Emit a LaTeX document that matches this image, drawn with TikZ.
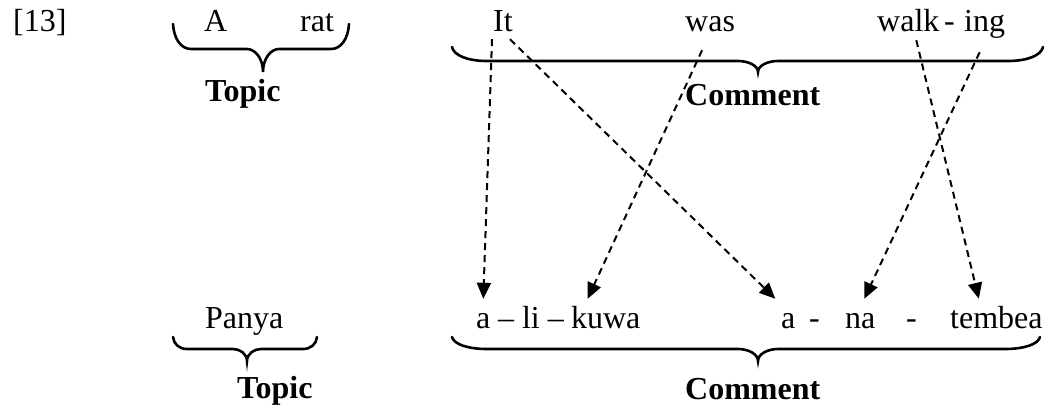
\documentclass[tikz,border=0pt]{standalone}
\usepackage{fontspec}
\setmainfont{Liberation Serif}
\usetikzlibrary{arrows.meta}
\newcommand\bigsz{\fontsize{32}{38}\selectfont}
% #1 xL, #2 xR, #3 y of ends, #4 y of line, #5 x tip, #6 y tip, #7 end spread, #8 tip spread
\newcommand\drawbrace[8]{%
  \draw[bracestyle] (#1,#3) .. controls ({#1+0.05*#7},{#3+0.6*(#4-#3)}) and ({#1+0.45*#7},#4) .. ({#1+#7},#4)
    -- ({#5-#8},#4) .. controls ({#5-0.5*#8},#4) and (#5,{#4+0.4*(#6-#4)}) .. (#5,#6)
    .. controls (#5,{#4+0.4*(#6-#4)}) and ({#5+0.5*#8},#4) .. ({#5+#8},#4)
    -- ({#2-#7},#4) .. controls ({#2-0.45*#7},#4) and ({#2-0.05*#7},{#3+0.6*(#4-#3)}) .. (#2,#3);}
\tikzset{
  word/.style={inner sep=0pt, anchor=base west, text height=22pt, text depth=6pt, font=\bigsz},
  lab/.style={word, font=\bigsz\bfseries},
  conn/.style={dash pattern=on 7pt off 5pt, line width=2pt, -{Triangle[length=16pt,width=14pt]}},
  bracestyle/.style={line width=2.6pt, line cap=round}
}
\begin{document}
\begin{tikzpicture}[x=1pt,y=-1pt]
\useasboundingbox (0,0) rectangle (1045,406);
% top row
\node[word] (num) at (13,32) {[13]};
\node[word] (A) at (204,32) {A};
\node[word] (rat) at (300,32) {rat};
\node[word] (It) at (493,32) {It};
\node[word] (was) at (685,32) {was};
\node[word] (walk) at (877,32) {walk};
\node[word] (hy0) at (944,32) {-};
\node[word] (ing) at (964,32) {ing};
\drawbrace{173}{349}{24}{49}{263}{72}{18}{16}
\drawbrace{452}{1043}{47}{61}{758}{72}{35}{20}
\node[lab] (topic1) at (205,102) {Topic};
\node[lab] (comment1) at (685,106) {Comment};
% bottom row
\node[word] (panya) at (205,328) {Panya};
\node[word] (a1) at (476,328) {a};
\node[word] (li) at (497.9,328) {– li –};
\node[word] (kuwa) at (570.8,328) {kuwa};
\node[word] (a2) at (781,328) {a};
\node[word] (hy1) at (809,328) {-};
\node[word] (na) at (845,328) {na};
\node[word] (hy2) at (906,328) {-};
\node[word] (tembea) at (950,328) {tembea};
\drawbrace{173}{317}{337}{349}{247}{361}{14}{14}
\drawbrace{452}{1040}{337}{349}{758}{361}{35}{20}
\node[lab] (topic2) at (237,398) {Topic};
\node[lab] (comment2) at (685,399) {Comment};
% connectors
\draw[conn] ([shift={(-1,1)}]It.south west) -- ([shift={(0,-7)}]a1.north);
\draw[conn] ([shift={(-3,1)}]It.south east) -- ([shift={(-13,-7)}]a2.north);
\draw[conn] ([shift={(-8,12)}]was.south) -- ([shift={(-18,-7)}]kuwa.north);
\draw[conn] ([shift={(8,2)}]walk.south) -- ([shift={(-17.6,-7)}]tembea.north);
\draw[conn] ([shift={(-5,14)}]ing.south) -- ([shift={(4,-7)}]na.north);
\end{tikzpicture}
\end{document}
